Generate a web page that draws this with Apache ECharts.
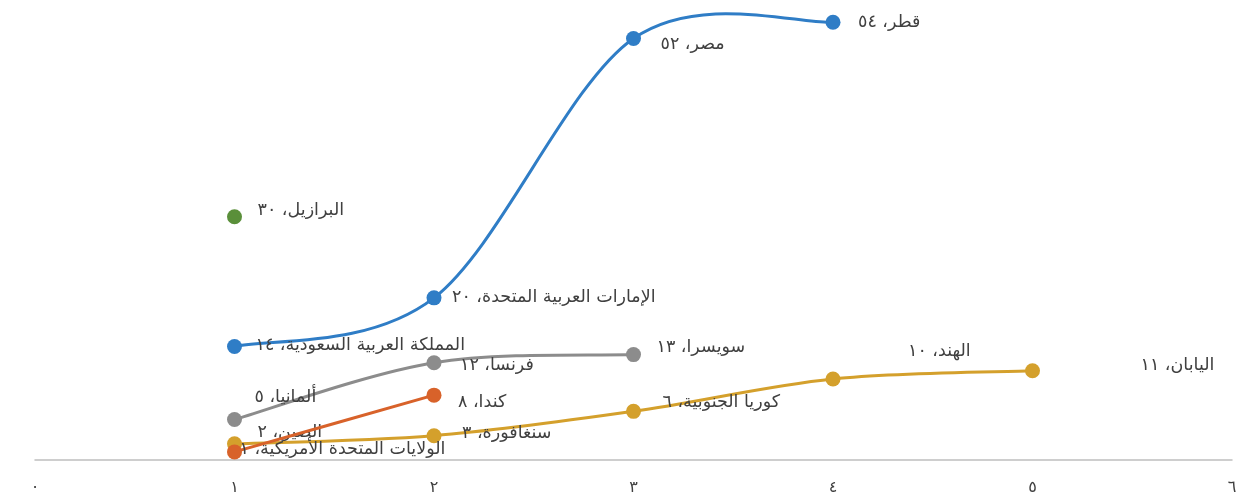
<!DOCTYPE html>
<html><head><meta charset="utf-8">
<script src="https://cdn.jsdelivr.net/npm/echarts@6/dist/echarts.min.js"></script>
<style>html,body{margin:0;padding:0;background:#fff}#c{width:1246px;height:497px}</style>
</head><body><div id="c"></div>
<script>
// ---- data ----
const xTickLabels = ['٠','١','٢','٣','٤','٥','٦'];
const blueNames = ['المملكة العربية السعودية','الإمارات العربية المتحدة','مصر','قطر'];
const blueX = [1,2,3,4];
const blueValues = [14,20,52,54];
const greenNames = ['البرازيل'];
const greenX = [1];
const greenValues = [30];
const grayNames = ['ألمانيا','فرنسا','سويسرا'];
const grayX = [1,2,3];
const grayValues = [5,12,13];
const orangeNames = ['الولايات المتحدة الأمريكية','كندا'];
const orangeX = [1,2];
const orangeValues = [1,8];
const goldNames = ['الصين','سنغافورة','كوريا الجنوبية','الهند','اليابان'];
const goldX = [1,2,3,4,5];
const goldValues = [2,3,6,10,11];

// ---- label layout (offsets from the point) ----
const blueOffsets = [[21,-1],[18,0],[27,6],[25,0]];
const greenOffsets = [[23,-6]];
const grayOffsets = [[20,-22],[26,3],[23,-7]];
const orangeOffsets = [[5,-2],[24,7]];
const goldOffsets = [[23,-11],[28,-2],[29,-9],[75,-27],[108,-5]];

const toArabicDigits = n => String(n).replace(/[0-9]/g, d => '٠١٢٣٤٥٦٧٨٩'[d]);

// Smoothed (Excel-like cardinal spline) connecting line, drawn through the axes via api.coord
function curveSeries(xs, vals, color, z) {
  const pts = xs.map((x, i) => [x, vals[i]]);
  return {
    type: 'custom',
    z: z,
    silent: true,
    animation: false,
    data: pts.slice(0, Math.max(pts.length - 1, 0)),
    encode: { x: 0, y: 1 },
    renderItem: function (params, api) {
      const i = params.dataIndex;
      const n = pts.length;
      const c = k => api.coord(pts[Math.max(0, Math.min(n - 1, k))]);
      const p0 = c(i - 1), p1 = c(i), p2 = c(i + 1), p3 = c(i + 2);
      const t = 1 / 6;
      return {
        type: 'bezierCurve',
        shape: {
          x1: p1[0], y1: p1[1], x2: p2[0], y2: p2[1],
          cpx1: p1[0] + (p2[0] - p0[0]) * t, cpy1: p1[1] + (p2[1] - p0[1]) * t,
          cpx2: p2[0] - (p3[0] - p1[0]) * t, cpy2: p2[1] - (p3[1] - p1[1]) * t
        },
        style: { stroke: color, lineWidth: 3, fill: null, lineCap: 'round' }
      };
    }
  };
}

function pointSeries(xs, vals, names, offsets, color, z) {
  return {
    type: 'scatter',
    z: z,
    symbol: 'circle',
    symbolSize: 15,
    itemStyle: { color: color, opacity: 1 },
    data: xs.map((x, i) => ({ value: [x, vals[i]], name: names[i], label: { offset: offsets[i] } })),
    label: {
      show: true,
      position: 'inside',
      align: 'left',
      verticalAlign: 'middle',
      fontFamily: 'DejaVu Sans',
      fontSize: 17.5,
      color: '#404040',
      formatter: p => p.name + '، ' + toArabicDigits(p.value[1])
    },
    emphasis: { disabled: true },
    animation: false
  };
}

const chart = echarts.init(document.getElementById('c'), null, { renderer: 'canvas' });
chart.setOption({
  animation: false,
  grid: { left: 35, right: 14, top: 6, bottom: 37, containLabel: false },
  xAxis: {
    type: 'value', min: 0, max: 6, interval: 1,
    axisLine: { show: true, lineStyle: { color: '#bfbfbf', width: 1.5 } },
    axisTick: { show: false },
    splitLine: { show: false },
    axisLabel: {
      margin: 20, fontFamily: 'DejaVu Sans', fontSize: 16, color: '#404040',
      formatter: v => xTickLabels[v]
    }
  },
  yAxis: {
    type: 'value', min: 0, max: 56,
    show: false, splitLine: { show: false }
  },
  series: [
    curveSeries(goldX, goldValues, '#d4a02c', 2),
    pointSeries(goldX, goldValues, goldNames, goldOffsets, '#d4a02c', 3),
    curveSeries(orangeX, orangeValues, '#d8622a', 4),
    pointSeries(orangeX, orangeValues, orangeNames, orangeOffsets, '#d8622a', 5),
    curveSeries(grayX, grayValues, '#8c8c8c', 6),
    pointSeries(grayX, grayValues, grayNames, grayOffsets, '#8c8c8c', 7),
    pointSeries(greenX, greenValues, greenNames, greenOffsets, '#5a8f3a', 8),
    curveSeries(blueX, blueValues, '#2f7dc6', 9),
    pointSeries(blueX, blueValues, blueNames, blueOffsets, '#2f7dc6', 10)
  ]
});
</script></body></html>
